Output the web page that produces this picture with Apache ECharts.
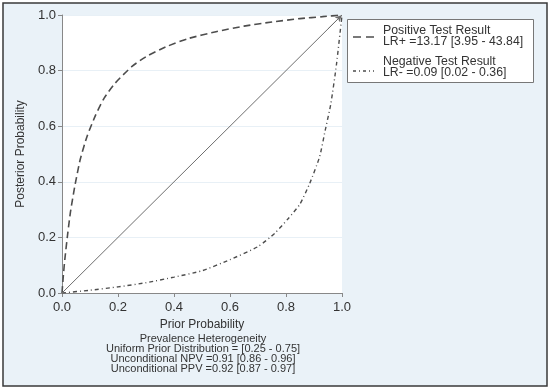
<!DOCTYPE html>
<html><head><meta charset="utf-8">
<script src="https://cdn.jsdelivr.net/npm/echarts@6/dist/echarts.min.js"></script>
<style>html,body{margin:0;padding:0;background:#fff}#c{width:550px;height:391px}</style>
</head><body><div id="c"></div>
<script>
// Data
var posPrior = [0, 0.005, 0.01, 0.02, 0.03, 0.045, 0.065, 0.09, 0.12, 0.15, 0.19, 0.25, 0.30, 0.37, 0.45, 0.55, 0.65, 0.75, 0.85, 0.93, 1.0];
var posPost  = [0, 0.065, 0.12, 0.21, 0.29, 0.38, 0.48, 0.565, 0.64, 0.70, 0.755, 0.815, 0.85, 0.885, 0.915, 0.94, 0.96, 0.975, 0.987, 0.994, 1.0];
var negPrior = [0, 0.10, 0.20, 0.30, 0.40, 0.50, 0.60, 0.70, 0.76, 0.81, 0.85, 0.885, 0.92, 0.94, 0.96, 0.98, 1.0];
var negPost  = [0, 0.010, 0.022, 0.037, 0.057, 0.080, 0.12, 0.167, 0.215, 0.27, 0.32, 0.395, 0.49, 0.585, 0.68, 0.82, 1.0];
var diagPrior = [0, 1];
var diagPost = [0, 1];
var legendTitles = ['Positive Test Result', 'Negative Test Result'];
var legendStats = ['LR+ =13.17 [3.95 - 43.84]', 'LR- =0.09 [0.02 - 0.36]'];
var noteLines = ['Prevalence Heterogeneity', 'Uniform Prior Distribution = [0.25 - 0.75]', 'Unconditional NPV =0.91 [0.86 - 0.96]', 'Unconditional PPV =0.92 [0.87 - 0.97]'];

function pairs(a, b) { return a.map(function (v, i) { return [v, b[i]]; }); }

var chart = echarts.init(document.getElementById('c'));
var font = '"Liberation Sans", Arial, sans-serif';
var lineCol = '#4d4d4d';
chart.setOption({
  animation: false,
  backgroundColor: '#fff',
  textStyle: { fontFamily: font },
  graphic: [
    { type: 'rect', z: -10, shape: { x: 3, y: 3, width: 544, height: 383 },
      style: { fill: '#eaf2f8', stroke: '#3a3a3a', lineWidth: 1.5 } },
    { type: 'text', z: 10, x: 203, y: 334,
      style: { text: noteLines.join('\n'), fill: '#333', font: '11px ' + font, textAlign: 'center', lineHeight: 10 } },
    // legend box
    { type: 'rect', z: 10, shape: { x: 347.5, y: 19.5, width: 186, height: 63 },
      style: { fill: '#fff', stroke: '#777', lineWidth: 1 } },
    { type: 'line', z: 11, shape: { x1: 353, y1: 37, x2: 374, y2: 37 },
      style: { stroke: lineCol, lineWidth: 1.6, lineDash: [8, 5] } },
    { type: 'line', z: 11, shape: { x1: 353, y1: 71, x2: 374, y2: 71 },
      style: { stroke: lineCol, lineWidth: 1.4, lineDash: [3, 3, 1, 3] } },
    { type: 'text', z: 11, x: 383, y: 25,
      style: { text: legendTitles[0] + '\n' + legendStats[0], fill: '#333', font: '12.3px ' + font, lineHeight: 11 } },
    { type: 'text', z: 11, x: 383, y: 56,
      style: { text: legendTitles[1] + '\n' + legendStats[1], fill: '#333', font: '12.3px ' + font, lineHeight: 11 } }
  ],
  grid: { left: 62, right: 208, top: 15, bottom: 98, show: true, backgroundColor: '#fff', borderWidth: 0 },
  xAxis: {
    type: 'value', min: 0, max: 1, interval: 0.2,
    name: 'Prior Probability', nameLocation: 'middle', nameGap: 20,
    nameTextStyle: { fontSize: 12, color: '#333' },
    axisLine: { lineStyle: { color: '#888' } },
    axisTick: { length: 4, lineStyle: { color: '#888' } },
    axisLabel: { fontSize: 13, color: '#333', margin: 8, formatter: function (v) { return v.toFixed(1); } },
    splitLine: { show: false }
  },
  yAxis: {
    type: 'value', min: 0, max: 1, interval: 0.2,
    name: 'Posterior Probability', nameLocation: 'middle', nameGap: 35,
    nameTextStyle: { fontSize: 12, color: '#333' },
    axisLine: { show: true, lineStyle: { color: '#888' } },
    axisTick: { show: true, length: 4, lineStyle: { color: '#888' } },
    axisLabel: { fontSize: 13, color: '#333', margin: 6, formatter: function (v) { return v.toFixed(1); } },
    splitLine: { show: true, lineStyle: { color: '#e8f0f6', width: 1 } }
  },
  series: [
    { name: 'pos', type: 'line', data: pairs(posPrior, posPost), smooth: 0.2, showSymbol: false, symbol: 'none',
      lineStyle: { color: lineCol, width: 1.6, type: [7, 4] } },
    { name: 'neg', type: 'line', data: pairs(negPrior, negPost), smooth: 0.2, showSymbol: false, symbol: 'none',
      lineStyle: { color: lineCol, width: 1.4, type: [4, 3, 1, 3] } },
    { name: 'diag', type: 'line', data: pairs(diagPrior, diagPost), showSymbol: false, symbol: 'none',
      lineStyle: { color: '#6e6e6e', width: 1 },
      markLine: { silent: true, symbol: ['none', 'arrow'], symbolSize: [5, 7], label: { show: false },
        lineStyle: { color: '#6e6e6e', width: 1, type: 'solid' },
        data: [[{ coord: [0.95, 0.95] }, { coord: [1, 1] }]] } }
  ]
});
</script></body></html>
